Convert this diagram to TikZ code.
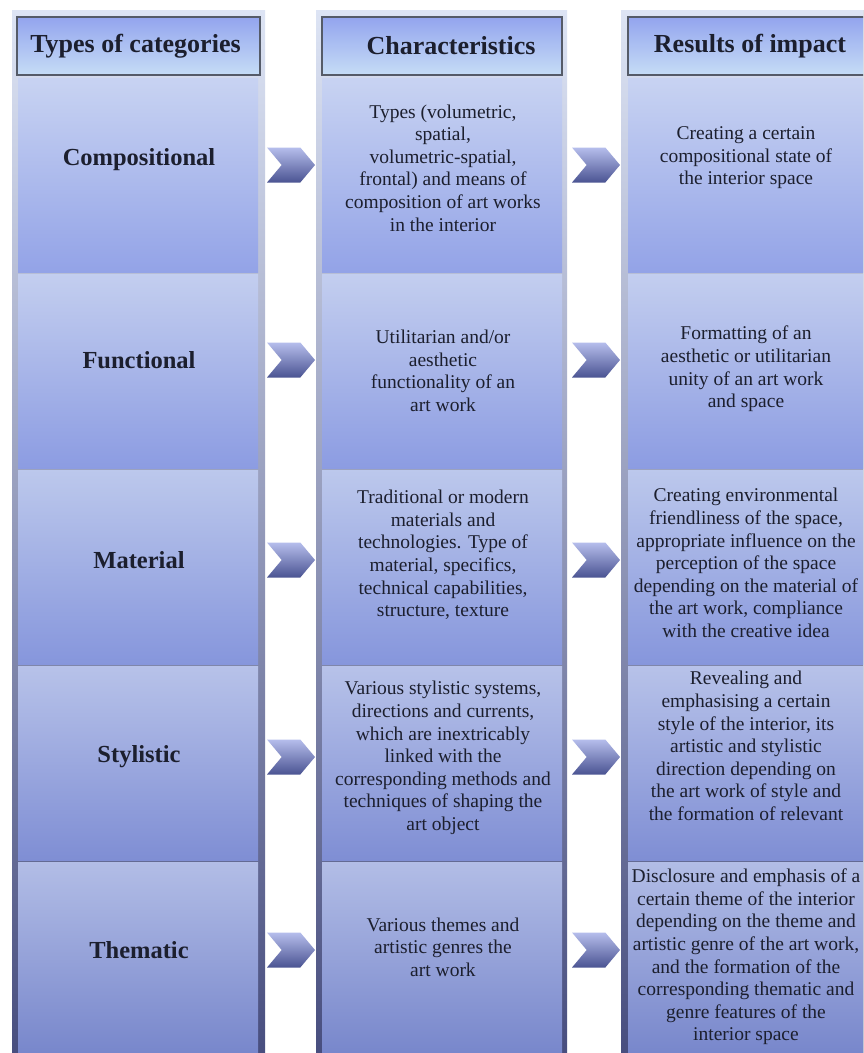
\documentclass[tikz,border=0pt]{standalone}
\usepackage{fontspec}
\setmainfont{Liberation Serif}
\usetikzlibrary{shapes.symbols}

\definecolor{panelTop}{HTML}{DDE4F4}
\definecolor{panelBot}{HTML}{474D7E}
\definecolor{headTop}{HTML}{93A4EE}
\definecolor{headBot}{HTML}{C6DDF6}
\definecolor{headLine}{HTML}{555B68}
\definecolor{ink}{HTML}{1C1F2E}
\definecolor{arrowTop}{HTML}{B6BEEC}
\definecolor{arrowBot}{HTML}{4A5392}

\tikzset{
	panel/.style={top color=panelTop, bottom color=panelBot},
	header/.style={draw=headLine, line width=2pt, top color=headTop, bottom color=headBot,
		minimum height=58pt, inner sep=0pt, text=ink, font=\fontsize{26}{30}\selectfont\bfseries},
	cell/.style={minimum width=240pt, minimum height=194pt, inner sep=0pt},
	catlabel/.style={text=ink, font=\fontsize{24.5}{28}\selectfont\bfseries},
	celltext/.style={align=center, text=ink, font=\fontsize{19.5}{22.6}\selectfont},
	chevron/.style={signal, signal from=west, signal to=east, signal pointer angle=100,
		minimum width=48pt, minimum height=35pt, inner sep=0pt, top color=arrowTop, bottom color=arrowBot}
}

\begin{document}
\begin{tikzpicture}[x=1pt,y=-1pt]
		\clip (0,0) rectangle (863,1053);
		\fill[white] (0,0) rectangle (863,1053);

		% column panels
		\fill[panel] (12,10) rectangle (265,1060);
		\fill[panel] (316,10) rectangle (567,1060);
		\fill[panel] (621,10) rectangle (880,1060);

		% headers
		\node[header, minimum width=243pt] (typesHead) at (138.5,46) {Types of categories\hspace*{6pt}};
		\node[header, minimum width=240pt] (charHead) at (442,46) {\hspace*{18pt}Characteristics};
		\node[header, minimum width=244pt] (resHead) at (750,46) {Results of impact};

		% rows of cells
		\node[cell, top color={rgb,255:red,200;green,211;blue,242}, bottom color={rgb,255:red,147;green,163;blue,231}] (compCat) at (138,175) {};
		\node[cell, top color={rgb,255:red,200;green,211;blue,242}, bottom color={rgb,255:red,147;green,163;blue,231}] (compChar) at (442,175) {};
		\node[cell, minimum width=244pt, top color={rgb,255:red,200;green,211;blue,242}, bottom color={rgb,255:red,147;green,163;blue,231}] (compRes) at (750,175) {};

		\node[cell, top color={rgb,255:red,195;green,206;blue,239}, bottom color={rgb,255:red,140;green,156;blue,226}] (funcCat) at (138,371) {};
		\node[cell, top color={rgb,255:red,195;green,206;blue,239}, bottom color={rgb,255:red,140;green,156;blue,226}] (funcChar) at (442,371) {};
		\node[cell, minimum width=244pt, top color={rgb,255:red,195;green,206;blue,239}, bottom color={rgb,255:red,140;green,156;blue,226}] (funcRes) at (750,371) {};

		\node[cell, top color={rgb,255:red,188;green,200;blue,236}, bottom color={rgb,255:red,134;green,150;blue,220}] (matCat) at (138,567) {};
		\node[cell, top color={rgb,255:red,188;green,200;blue,236}, bottom color={rgb,255:red,134;green,150;blue,220}] (matChar) at (442,567) {};
		\node[cell, minimum width=244pt, top color={rgb,255:red,188;green,200;blue,236}, bottom color={rgb,255:red,134;green,150;blue,220}] (matRes) at (750,567) {};

		\node[cell, top color={rgb,255:red,183;green,194;blue,233}, bottom color={rgb,255:red,127;green,142;blue,212}] (styCat) at (138,763) {};
		\node[cell, top color={rgb,255:red,183;green,194;blue,233}, bottom color={rgb,255:red,127;green,142;blue,212}] (styChar) at (442,763) {};
		\node[cell, minimum width=244pt, top color={rgb,255:red,183;green,194;blue,233}, bottom color={rgb,255:red,127;green,142;blue,212}] (styRes) at (750,763) {};

		\node[cell, top color={rgb,255:red,178;green,189;blue,230}, bottom color={rgb,255:red,119;green,134;blue,203}] (themCat) at (138,959) {};
		\node[cell, top color={rgb,255:red,178;green,189;blue,230}, bottom color={rgb,255:red,119;green,134;blue,203}] (themChar) at (442,959) {};
		\node[cell, minimum width=244pt, top color={rgb,255:red,178;green,189;blue,230}, bottom color={rgb,255:red,119;green,134;blue,203}] (themRes) at (750,959) {};

		% category names
		\node[catlabel] (compName) at (139,160) {Compositional};
		\node[catlabel] (funcName) at (139,360) {Functional};
		\node[catlabel] (matName) at (139,560) {Material};
		\node[catlabel] (styName) at (139,757) {Stylistic};
		\node[catlabel] (themName) at (139,950) {Thematic};

		% characteristics
		\node[celltext] (compText) at (443,168) {Types (volumetric,\\spatial,\\volumetric-spatial,\\frontal) and means of\\composition of art works\\in the interior};
		\node[celltext] (funcText) at (443,371) {Utilitarian and/or\\aesthetic\\functionality of an\\art work};
		\node[celltext] (matText) at (443,555) {Traditional or modern\\materials and\\technologies. Type of\\material, specifics,\\technical capabilities,\\structure, texture};
		\node[celltext] (styText) at (443,758) {Various stylistic systems,\\directions and currents,\\which are inextricably\\linked with the\\corresponding methods and\\techniques of shaping the\\art object};
		\node[celltext] (themText) at (443,947) {Various themes and\\artistic genres the\\art work};

		% results of impact
		\node[celltext] (compImpact) at (746,158) {Creating a certain\\compositional state of\\the interior space};
		\node[celltext] (funcImpact) at (746,369) {Formatting of an\\aesthetic or utilitarian\\unity of an art work\\and space};
		\node[celltext] (matImpact) at (746,563) {Creating environmental\\friendliness of the space,\\appropriate influence on the\\perception of the space\\depending on the material of\\the art work, compliance\\with the creative idea};
		\node[celltext] (styImpact) at (746,746) {Revealing and\\emphasising a certain\\style of the interior, its\\artistic and stylistic\\direction depending on\\the art work of style and\\the formation of relevant};
		\node[celltext] (themImpact) at (746,957) {Disclosure and emphasis of a\\certain theme of the interior\\depending on the theme and\\artistic genre of the art work,\\and the formation of the\\corresponding thematic and\\genre features of the\\interior space};

		% chevrons
		\node[chevron] (compArrA) at (291,165) {};
		\node[chevron] (compArrB) at (596,165) {};
		\node[chevron] (funcArrA) at (291,360) {};
		\node[chevron] (funcArrB) at (596,360) {};
		\node[chevron] (matArrA) at (291,560) {};
		\node[chevron] (matArrB) at (596,560) {};
		\node[chevron] (styArrA) at (291,757) {};
		\node[chevron] (styArrB) at (596,757) {};
		\node[chevron] (themArrA) at (291,950) {};
		\node[chevron] (themArrB) at (596,950) {};
	\end{tikzpicture}
\end{document}
